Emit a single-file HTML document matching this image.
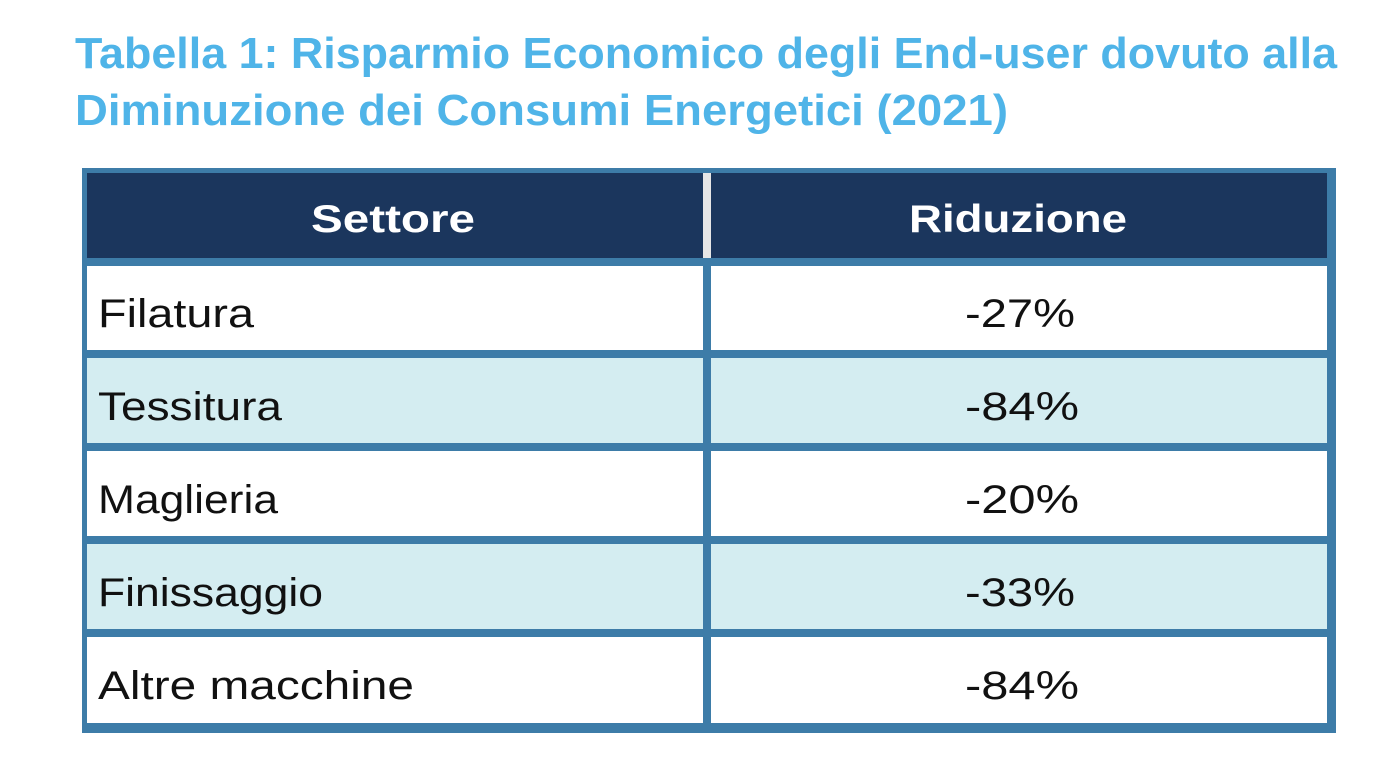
<!DOCTYPE html>
<html><head><meta charset="utf-8"><style>
html,body{margin:0;padding:0;background:#fff;width:1382px;height:780px;overflow:hidden}
svg{display:block}
text{font-family:"Liberation Sans",sans-serif}
</style></head><body>
<svg width="1382" height="780" viewBox="0 0 1382 780">
<text x="75" y="68" font-size="44" font-weight="bold" fill="#4fb4e8" textLength="1262" lengthAdjust="spacingAndGlyphs">Tabella 1: Risparmio Economico degli End-user dovuto alla</text>
<text x="75" y="125" font-size="44" font-weight="bold" fill="#4fb4e8" textLength="933" lengthAdjust="spacingAndGlyphs">Diminuzione dei Consumi Energetici (2021)</text>
<rect x="82" y="168" width="1254" height="565" fill="#3d7ca8"/>
<rect x="87" y="173" width="1240" height="85" fill="#1b365d"/>
<rect x="703" y="173" width="8" height="85" fill="#e6e6e6"/>
<g fill="#ffffff">
<rect x="87" y="266" width="616" height="84"/><rect x="711" y="266" width="616" height="84"/>
<rect x="87" y="451" width="616" height="85"/><rect x="711" y="451" width="616" height="85"/>
<rect x="87" y="637" width="616" height="86"/><rect x="711" y="637" width="616" height="86"/>
</g>
<g fill="#d4edf1">
<rect x="87" y="358" width="616" height="85"/><rect x="711" y="358" width="616" height="85"/>
<rect x="87" y="544" width="616" height="85"/><rect x="711" y="544" width="616" height="85"/>
</g>
<text x="393" y="232" font-size="39" font-weight="bold" fill="#fff" text-anchor="middle" textLength="164" lengthAdjust="spacingAndGlyphs">Settore</text>
<text x="1018" y="232" font-size="39" font-weight="bold" fill="#fff" text-anchor="middle" textLength="218" lengthAdjust="spacingAndGlyphs">Riduzione</text>
<g font-size="40" fill="#111">
<text x="98" y="327" textLength="156" lengthAdjust="spacingAndGlyphs">Filatura</text>
<text x="98" y="420" textLength="184" lengthAdjust="spacingAndGlyphs">Tessitura</text>
<text x="98" y="513" textLength="180" lengthAdjust="spacingAndGlyphs">Maglieria</text>
<text x="98" y="606" textLength="225" lengthAdjust="spacingAndGlyphs">Finissaggio</text>
<text x="98" y="699" textLength="316" lengthAdjust="spacingAndGlyphs">Altre macchine</text>
<text x="965" y="327" textLength="110" lengthAdjust="spacingAndGlyphs">-27%</text>
<text x="965" y="420" textLength="114" lengthAdjust="spacingAndGlyphs">-84%</text>
<text x="965" y="513" textLength="114" lengthAdjust="spacingAndGlyphs">-20%</text>
<text x="965" y="606" textLength="110" lengthAdjust="spacingAndGlyphs">-33%</text>
<text x="965" y="699" textLength="114" lengthAdjust="spacingAndGlyphs">-84%</text>
</g>
</svg>
</body></html>
